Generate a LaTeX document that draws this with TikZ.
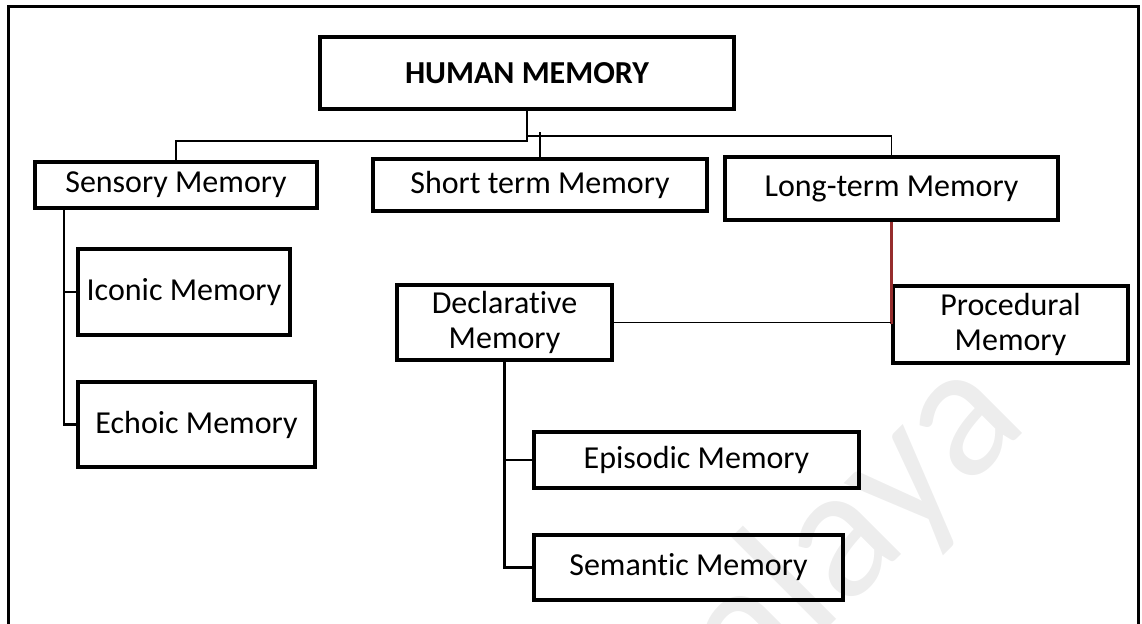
\documentclass[tikz,border=0pt]{standalone}
\usepackage{fontspec}
\setmainfont{Carlito}[Ligatures=NoCommon]
\definecolor{rojo}{RGB}{150,45,45}
\tikzset{
  caja/.style={draw, line width=2pt, align=center, inner sep=0pt,
    font=\fontsize{16}{17.5}\selectfont},
  enlace/.style={line width=1.1pt},
  fina/.style={line width=0.8pt},
}
\begin{document}
\begin{tikzpicture}[x=0.5pt,y=-0.5pt]
  \useasboundingbox (0,0) rectangle (1142,624);

  % Marca de agua
  \begin{scope}
    \clip (0,0) rectangle (1142,624);
    \node[text=black!7, font=\fontsize{95}{95}\selectfont, rotate=45, anchor=base east] (marca) at (1036,420) {Malaya};
  \end{scope}

  % Marco
  \draw[line width=1.5pt] (8,624) -- (8,7) -- (1138,7) -- (1138,624);

  % Cajas
  \node[caja, minimum width=207pt, minimum height=36pt, font=\bfseries\fontsize{16}{17.5}\selectfont] (humana) at (527,73) {HUMAN MEMORY};
  \node[caja, minimum width=141pt, minimum height=23pt] (sensorial) at (176,185) {Sensory Memory};
  \node[caja, minimum width=167pt, minimum height=26pt] (corto) at (540,185) {Short term Memory};
  \node[caja, minimum width=166.5pt, minimum height=31.5pt] (largo) at (891.5,188.5) {Long-term Memory};
  \node[caja, minimum width=106pt, minimum height=43pt] (iconica) at (184,292) {Iconic Memory};
  \node[caja, minimum width=118.5pt, minimum height=42.5pt] (ecoica) at (196.5,424.5) {Echoic Memory};
  \node[caja, minimum width=107.5pt, minimum height=37.5pt] (declarativa) at (504.5,322.5) {Declarative\\Memory};
  \node[caja, minimum width=117.5pt, minimum height=38.5pt] (procedimental) at (1010.5,324.5) {Procedural\\Memory};
  \node[caja, minimum width=162.5pt, minimum height=28pt] (episodica) at (696.5,460) {Episodic Memory};
  \node[caja, minimum width=154.5pt, minimum height=32.5pt] (semantica) at (688.5,567.5) {Semantic Memory};

  % Ramas de la memoria humana
  \draw[enlace] (humana.south) -- ++(0,25);
  \draw[fina] (humana.south) ++(0,25) -| (largo.north);
  \draw[fina] (humana.south) -- ++(0,30) -| (sensorial.north);
  \draw[fina] (corto.north) -- ++(0,-25);

  % Memoria sensorial
  \draw[enlace] ([xshift=-56pt]sensorial.south) |- (iconica.west);
  \draw[enlace] ([xshift=-56pt]sensorial.south) |- (ecoica.west);

  % Memoria a largo plazo
  \draw[line width=1.5pt, rojo] (largo.south) -- (largo.south |- procedimental.west);
  \draw[fina] (declarativa.east) -- (declarativa.east -| procedimental.west);
  \draw[enlace] (declarativa.south) |- (episodica.west);
  \draw[enlace] (declarativa.south) |- (semantica.west);
\end{tikzpicture}
\end{document}
